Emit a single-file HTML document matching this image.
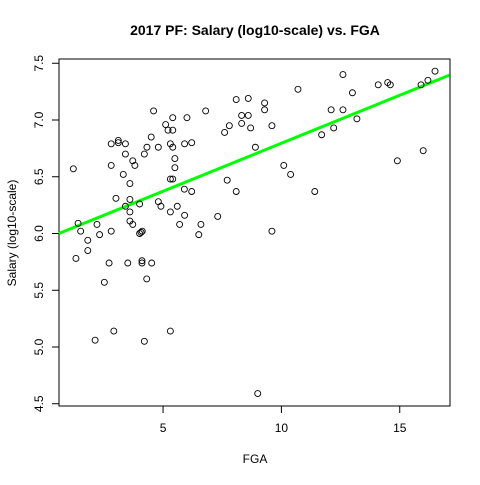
<!DOCTYPE html>
<html><head><meta charset="utf-8"><style>html,body{margin:0;padding:0;background:#fff}</style></head>
<body>
<svg id="chart" width="480" height="480" xmlns="http://www.w3.org/2000/svg" font-family="Liberation Sans, Arial, sans-serif">
<text x="255" y="35" text-anchor="middle" font-size="14" font-weight="bold">2017 PF: Salary (log10-scale) vs. FGA</text>
<text x="255" y="463" text-anchor="middle" font-size="12">FGA</text>
<text transform="translate(16,233) rotate(-90)" text-anchor="middle" font-size="12">Salary (log10-scale)</text>
<rect x="59" y="59" width="391" height="347" fill="none" stroke="#000" stroke-width="1"/>
<g id="axes"></g><g id="line"></g><g id="pts"></g>
</svg>
<script>
const fga=[1.21,1.41,1.52,1.82,1.82,1.32,2.21,2.32,2.81,2.81,2.81,3.01,3.11,3.11,3.41,3.41,3.32,3.41,3.60,3.60,3.60,3.60,3.72,3.72,3.81,4.01,4.01,4.12,4.07,4.21,4.32,4.50,4.60,4.80,4.80,4.91,5.11,5.21,5.41,5.41,5.31,5.41,5.50,5.50,5.31,5.41,5.31,5.60,5.70,5.90,5.91,5.91,6.01,6.21,6.21,6.51,6.60,6.80,7.31,7.60,7.80,7.71,8.09,8.09,8.32,8.32,8.60,8.60,8.70,8.90,9.29,9.29,9.60,10.10,10.39,10.70,11.41,9.60,11.70,12.10,12.21,12.60,12.60,13.00,13.19,14.09,14.49,14.60,14.90,15.90,15.99,16.19,16.49,2.72,2.52,3.51,4.11,4.11,4.52,4.31,2.13,2.92,4.21,5.31,9.00];
const salary=[6.57,6.09,6.02,5.94,5.85,5.78,6.08,5.99,6.02,6.79,6.60,6.31,6.82,6.80,6.79,6.70,6.52,6.24,6.44,6.30,6.19,6.11,6.08,6.64,6.60,6.26,6.00,6.02,6.01,6.70,6.76,6.85,7.08,6.76,6.28,6.24,6.96,6.91,6.91,7.02,6.79,6.76,6.66,6.58,6.48,6.48,6.19,6.24,6.08,6.39,6.16,6.79,7.02,6.80,6.37,5.99,6.08,7.08,6.15,6.89,6.95,6.47,6.37,7.18,7.04,6.97,7.19,7.04,6.93,6.76,7.15,7.09,6.95,6.60,6.52,7.27,6.37,6.02,6.87,7.09,6.93,7.40,7.09,7.24,7.01,7.31,7.33,7.31,6.64,7.31,6.73,7.35,7.43,5.74,5.57,5.74,5.76,5.74,5.74,5.60,5.06,5.14,5.05,5.14,4.59];
const xTicks=[5,10,15];
const yTicks=[4.5,5.0,5.5,6.0,6.5,7.0,7.5];
const fitIntercept=5.949, fitSlope=0.0846;
const xRange=[0.6,17.1];
const NS="http://www.w3.org/2000/svg";
const sx=v=>44.7+v*23.67;
const sy=v=>347-(v-5)*113.5;
function mk(tag,attrs,parent){const e=document.createElementNS(NS,tag);for(const k in attrs)e.setAttribute(k,attrs[k]);parent.appendChild(e);return e;}
const ax=document.getElementById('axes');
xTicks.forEach(t=>{
  const l=mk('line',{x1:sx(t),x2:sx(t),y1:406,y2:413,stroke:'#000'},ax);
  
  
  const tx=mk('text',{x:sx(t),y:432,'text-anchor':'middle','font-size':12},ax);
  tx.textContent=t;
  
  
});
yTicks.forEach(t=>{
  const l=mk('line',{x1:52,x2:59,y1:sy(t),y2:sy(t),stroke:'#000'},ax);
  
  
  const tx=mk('text',{transform:`translate(43,${sy(t)}) rotate(-90)`,'text-anchor':'middle','font-size':12},ax);
  tx.textContent=t.toFixed(1);
  
  
});
const pts=document.getElementById('pts');
fga.forEach((f,i)=>{
  const c=mk('circle',{cx:sx(f),cy:sy(salary[i]),r:3,fill:'none',stroke:'#000','stroke-width':0.9},pts);
  
  
});
const ln=mk('line',{x1:sx(xRange[0]),y1:sy(fitIntercept+fitSlope*xRange[0]),x2:sx(xRange[1]),y2:sy(fitIntercept+fitSlope*xRange[1]),stroke:'#00ff00','stroke-width':3},document.getElementById('line'));


</script>
</body></html>
